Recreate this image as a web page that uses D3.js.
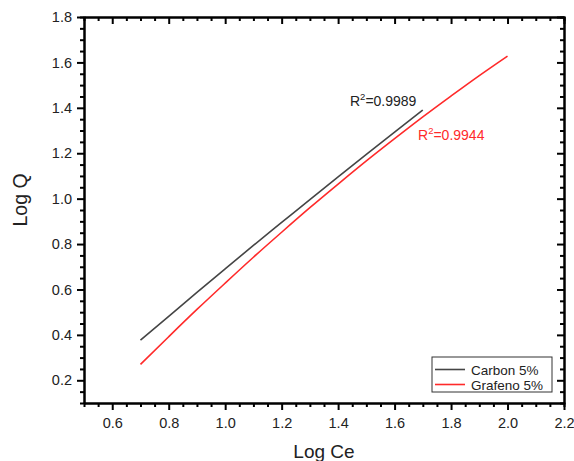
<!DOCTYPE html>
<html>
<head>
<meta charset="utf-8">
<script src="https://cdn.jsdelivr.net/npm/d3@7"></script>
<style>
  html, body { margin: 0; padding: 0; background: #fff; }
  svg { display: block; font-family: "Liberation Sans", Arial, sans-serif; }
</style>
</head>
<body>
<div id="chart"></div>
<script>
/* ---------- data ---------- */
const xValues = [0.7, 0.8, 0.9, 1.0, 1.1, 1.2, 1.3, 1.4, 1.5, 1.6, 1.7, 1.8, 1.9, 2.0];
const carbonQ = [0.377, 0.482, 0.587, 0.691, 0.794, 0.895, 0.996, 1.096, 1.195, 1.293, 1.390];
const grafenoQ = [0.270, 0.392, 0.512, 0.628, 0.742, 0.852, 0.960, 1.064, 1.166, 1.264, 1.360, 1.452, 1.542, 1.628];
const seriesNames = ['Carbon 5%', 'Grafeno 5%'];
const r2Labels = ['0.9989', '0.9944'];
const xTicks = [0.6, 0.8, 1.0, 1.2, 1.4, 1.6, 1.8, 2.0, 2.2];
const yTicks = [0.2, 0.4, 0.6, 0.8, 1.0, 1.2, 1.4, 1.6, 1.8];

const W = 574, H = 461;
const margin = { top: 17, right: 10, bottom: 58, left: 84 };
const w = W - margin.left - margin.right;
const h = H - margin.top - margin.bottom;

const svg = d3.select('#chart').append('svg')
  .attr('width', W).attr('height', H);
const g = svg.append('g').attr('transform', `translate(${margin.left},${margin.top})`);

const x = d3.scaleLinear().domain([0.5, 2.2]).range([0, w]);
const y = d3.scaleLinear().domain([0.1, 1.8]).range([h, 0]);

// minor ticks every 0.05, skipping the majors
const notMajor = v => Math.abs(Math.round(v * 5) - v * 5) > 0.01;
const minorX = d3.range(0.55, 2.2, 0.05).filter(notMajor);
const minorY = d3.range(0.15, 1.8, 0.05).filter(notMajor);

function styleAxis(sel) {
  sel.select('.domain').attr('stroke', '#000').attr('stroke-width', 2);
  sel.selectAll('.tick line').attr('stroke', '#000').attr('stroke-width', 2);
  sel.selectAll('.tick text').attr('font-size', 14.5).attr('fill', '#222');
}

/* ---------- axes ---------- */
// minor ticks
g.append('g').attr('transform', `translate(0,${h})`)
  .call(d3.axisBottom(x).tickValues(minorX).tickSize(4).tickFormat(''))
  .call(styleAxis);
g.append('g')
  .call(d3.axisLeft(y).tickValues(minorY).tickSize(4).tickFormat(''))
  .call(styleAxis);
g.append('g')
  .call(d3.axisTop(x).tickValues(minorX).tickSize(-4).tickFormat(''))
  .call(styleAxis);
g.append('g').attr('transform', `translate(${w},0)`)
  .call(d3.axisRight(y).tickValues(minorY).tickSize(-4).tickFormat(''))
  .call(styleAxis);

// major ticks
g.append('g').attr('transform', `translate(0,${h})`)
  .call(d3.axisBottom(x).tickValues(xTicks).tickSize(7).tickSizeOuter(0).tickPadding(8).tickFormat(d3.format('.1f')))
  .call(styleAxis);
g.append('g')
  .call(d3.axisLeft(y).tickValues(yTicks).tickSize(7).tickSizeOuter(0).tickPadding(5).tickFormat(d3.format('.1f')))
  .call(styleAxis);
g.append('g')
  .call(d3.axisTop(x).tickValues(xTicks).tickSize(-7).tickSizeOuter(0).tickFormat(''))
  .call(styleAxis);
g.append('g').attr('transform', `translate(${w},0)`)
  .call(d3.axisRight(y).tickValues(yTicks).tickSize(-7).tickSizeOuter(0).tickFormat(''))
  .call(styleAxis);

/* ---------- lines ---------- */
const colors = ['#454545', '#ff2a2a'];
const line = d3.line().x(d => x(d[0])).y(d => y(d[1])).curve(d3.curveMonotoneX);
const series = [
  carbonQ.map((q, i) => [xValues[i], q]),
  grafenoQ.map((q, i) => [xValues[i], q])
];
series.forEach((s, i) => {
  g.append('path').datum(s)
    .attr('fill', 'none')
    .attr('stroke', colors[i])
    .attr('stroke-width', 1.6)
    .attr('d', line);
});

/* ---------- R² labels ---------- */
const r2Pos = [[1.442, 1.408], [1.683, 1.258]];
r2Labels.forEach((lab, i) => {
  const t = g.append('text')
    .attr('x', x(r2Pos[i][0]))
    .attr('y', y(r2Pos[i][1]))
    .attr('font-size', 14)
    .attr('fill', i === 0 ? '#222' : '#ff2a2a');
  t.append('tspan').text('R');
  t.append('tspan').attr('font-size', 9.5).attr('dy', -6).text('2');
  t.append('tspan').attr('dy', 6).text('=' + lab);
});

/* ---------- legend ---------- */
const leg = g.append('g').attr('transform', `translate(${432 - margin.left},${357 - margin.top})`);
leg.append('rect')
  .attr('width', 120).attr('height', 35)
  .attr('fill', '#fff').attr('stroke', '#333').attr('stroke-width', 1);
seriesNames.forEach((name, i) => {
  const yy = 12.5 + i * 15;
  leg.append('line')
    .attr('x1', 3).attr('x2', 33).attr('y1', yy).attr('y2', yy)
    .attr('stroke', colors[i]).attr('stroke-width', 1.6);
  leg.append('text')
    .attr('x', 39).attr('y', yy + 5)
    .attr('font-size', 13.5).attr('fill', '#222')
    .text(name);
});

/* ---------- axis titles ---------- */
svg.append('text')
  .attr('x', margin.left + w / 2).attr('y', 458)
  .attr('text-anchor', 'middle').attr('font-size', 19).attr('fill', '#222')
  .text('Log Ce');
svg.append('text')
  .attr('transform', `translate(27,200) rotate(-90)`)
  .attr('text-anchor', 'middle').attr('font-size', 19.5).attr('fill', '#222')
  .text('Log Q');
</script>
</body>
</html>
